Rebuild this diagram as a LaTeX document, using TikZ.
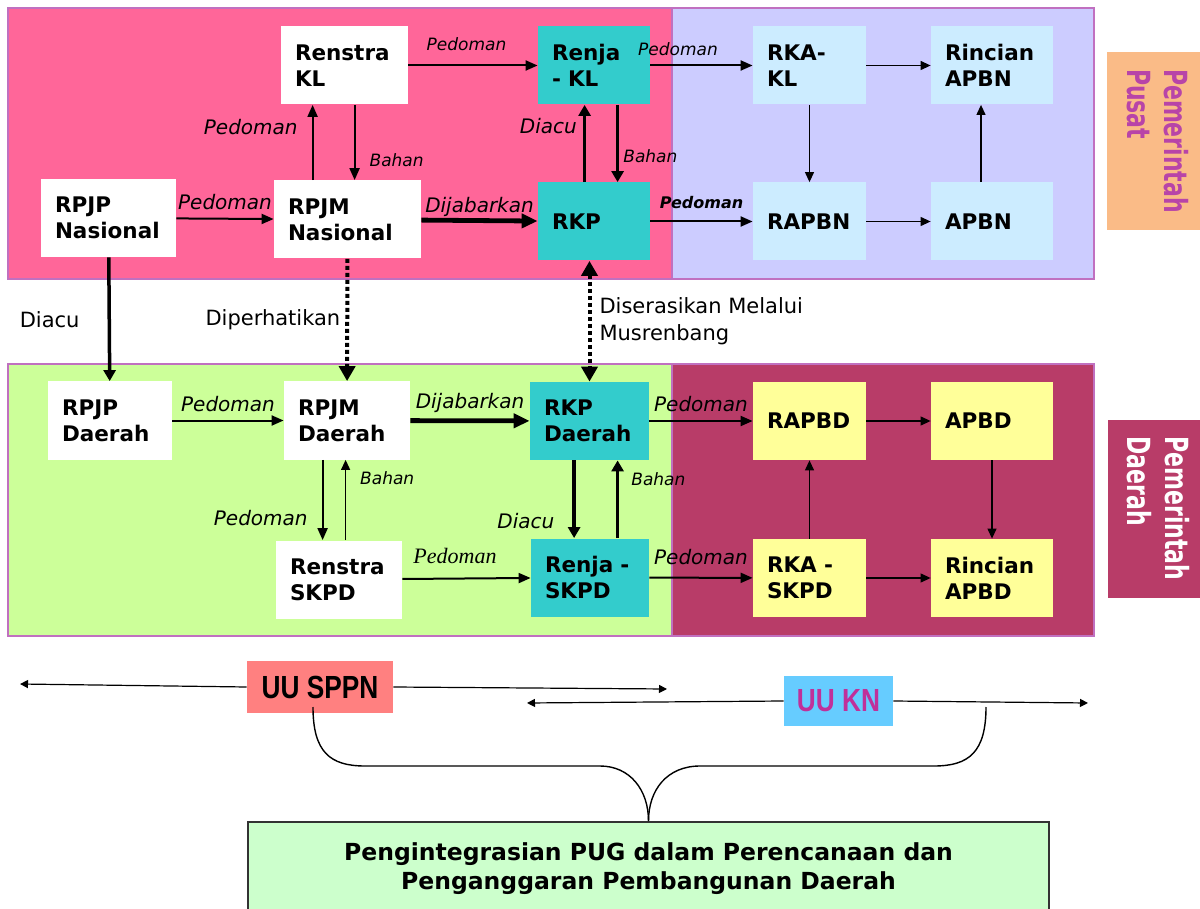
\documentclass[tikz,border=0pt]{standalone}
\usepackage{fontspec}
\setmainfont{DejaVu Sans}
\newfontfamily\narrowfont[FakeStretch=0.82]{Liberation Sans}
\newfontfamily\timesfont{Liberation Serif}
\usetikzlibrary{arrows.meta}

\definecolor{pinkbg}{HTML}{FF6699}
\definecolor{lavbg}{HTML}{CCCCFF}
\definecolor{greenbg}{HTML}{CCFF99}
\definecolor{maroonbg}{HTML}{B83C68}
\definecolor{rim}{HTML}{C070C0}
\definecolor{tealfill}{HTML}{33CCCC}
\definecolor{bluefill}{HTML}{CCECFF}
\definecolor{yellowfill}{HTML}{FFFF99}
\definecolor{pusatbg}{HTML}{FABB87}
\definecolor{pusattext}{HTML}{B844A8}
\definecolor{sppnfill}{HTML}{FF8080}
\definecolor{knfill}{HTML}{66CCFF}
\definecolor{kntext}{HTML}{C0309A}
\definecolor{pugfill}{HTML}{CCFFCC}
\definecolor{pugrim}{HTML}{333333}

\newcommand{\sidetext}[2]{\scalebox{1}[1.45]{\begin{tabular}{@{}l@{}}#1\\#2\end{tabular}}}

\begin{document}
\begin{tikzpicture}[
    x=0.5pt, y=-0.5pt,
    every node/.style = {inner sep=0pt},
    box/.style        = {minimum height=39pt, text width=#1, inner xsep=7pt, align=left,
                         font=\bfseries\fontsize{10.75}{13}\selectfont},
    whitebox/.style   = {box=#1, fill=white},
    tealbox/.style    = {box=#1, fill=tealfill},
    bluebox/.style    = {box=#1, fill=bluefill},
    yellowbox/.style  = {box=#1, fill=yellowfill},
    sidebox/.style    = {rotate=-90, minimum width=89pt, minimum height=46.5pt,
                         font=\bfseries\fontsize{11}{13}\selectfont},
    region/.style     = {draw=rim, line width=0.6pt},
    thin/.style       = {-{Triangle[length=5pt, width=4.5pt]}, line width=0.6pt},
    link/.style       = {-{Triangle[length=6pt, width=5pt]}, line width=1pt},
    heavy/.style      = {-{Triangle[length=5.5pt, width=6pt]}, line width=1.75pt},
    fat/.style        = {-{Triangle[length=8pt, width=7pt]}, line width=2.4pt},
    dotline/.style    = {line width=2pt, dash pattern=on 2pt off 1.5pt},
    law/.style        = {-{Triangle[length=4pt, width=4pt]}, line width=0.6pt},
    lblbig/.style     = {font=\itshape\fontsize{10}{12}\selectfont},
    lblsmall/.style   = {font=\itshape\fontsize{8.5}{10}\selectfont},
    lblbold/.style    = {font=\bfseries\itshape\fontsize{8}{10}\selectfont},
    lblserif/.style   = {font=\timesfont\itshape\fontsize{11}{13}\selectfont},
    lblplain/.style   = {font=\fontsize{10.5}{13.5}\selectfont, align=left}
]
\useasboundingbox (0,0) rectangle (1200,909);

% regions
\filldraw[region, fill=pinkbg]   (8,8)     rectangle (672,279);
\filldraw[region, fill=lavbg]    (672,8)   rectangle (1094,279);
\filldraw[region, fill=greenbg]  (8,364)   rectangle (672,636);
\filldraw[region, fill=maroonbg] (672,364) rectangle (1094,636);

% side labels
\node[sidebox, fill=pusatbg, text=pusattext] (pusat) at (1153.5,141) {\sidetext{Pemerintah}{Pusat}};
\node[sidebox, fill=maroonbg, text=white] (daerah) at (1154,508.5) {\sidetext{Pemerintah}{Daerah}};

% pusat
\node[whitebox=49.5pt] (rsKL)   at (344.5,65.5) {Renstra\\KL};
\node[tealbox=42pt]    (rjKL)   at (594,65.5)   {Renja\\- KL};
\node[bluebox=42.5pt]  (rkaKL)  at (809.5,65.5) {RKA-\\KL};
\node[bluebox=47pt]    (rcAPBN) at (992,65.5)   {Rincian\\APBN};
\node[whitebox=53.5pt] (rpjpN)  at (108.5,218)  {RPJP\\Nasional};
\node[whitebox=59.5pt] (rpjmN)  at (347.5,219.5) {RPJM\\Nasional};
\node[tealbox=42pt]    (rkp)    at (594,221.5)  {RKP};
\node[bluebox=42.5pt]  (rapbn)  at (809.5,221.5) {RAPBN};
\node[bluebox=47pt]    (apbn)   at (992,221.5)  {APBN};

% daerah
\node[whitebox=48pt]    (rpjpD)   at (110,420.5)   {RPJP\\Daerah};
\node[whitebox=49pt]    (rpjmD)   at (347,420.5)   {RPJM\\Daerah};
\node[tealbox=45.5pt]   (rkpD)    at (589.5,421)   {RKP\\Daerah};
\node[yellowbox=42.5pt] (rapbd)   at (809.5,421)   {RAPBD};
\node[yellowbox=47pt]   (apbd)    at (992,421)     {APBD};
\node[whitebox=49pt]    (rsSKPD)  at (339,579.5)   {Renstra\\SKPD};
\node[tealbox=45pt]     (rjSKPD)  at (590,577.5)   {Renja -\\SKPD};
\node[yellowbox=42.5pt] (rkaSKPD) at (809.5,578)   {RKA -\\SKPD};
\node[yellowbox=47pt]   (rcAPBD)  at (992,578)     {Rincian\\APBD};

% connections: pusat
\draw[link] (rsKL) -- node[lblsmall, pos=0.45, above=7pt] {Pedoman} (rjKL);
\draw[link] (rjKL) -- node[lblsmall, pos=0.27, above=4.5pt] {Pedoman} (rkaKL);
\draw[thin] (rkaKL) -- (rcAPBN);
\draw[link] (rpjpN) -- node[lblbig, above=4pt] {Pedoman} (rpjmN);
\draw[fat]  (rpjmN) -- node[lblbig, above=1pt] {Dijabarkan} (rkp);
\draw[link] (rkp) -- node[lblbold, above=6pt] {Pedoman} (rapbn);
\draw[link] ([xshift=16pt]rsKL.south west |- rpjmN.north) -- node[lblbig, pos=0.7, left=7pt] {Pedoman} ([xshift=16pt]rsKL.south west);
\draw[link] ([xshift=37pt]rsKL.south west) -- node[lblsmall, pos=0.74, right=7pt] {Bahan} ([xshift=37pt]rsKL.south west |- rpjmN.north);
\draw[heavy] ([xshift=23.5pt]rkp.north west) -- node[lblbig, pos=0.73, left=3pt] {Diacu} ([xshift=23.5pt]rkp.north west |- rjKL.south);
\draw[heavy] ([xshift=40pt]rjKL.south west) -- node[lblsmall, pos=0.67, right=2pt] {Bahan} ([xshift=40pt]rjKL.south west |- rkp.north);
\draw[thin] (rkaKL) -- (rapbn);
\draw[thin] (rapbn) -- (apbn);
\draw[thin] ([xshift=-5.5pt]apbn.north) -- ([xshift=-5.5pt]rcAPBN.south);

% connections: pusat -> daerah
\draw[heavy] (rpjpN) -- node[lblplain, midway, left=14pt] {Diacu} (rpjpD);
\draw[dotline, -{Triangle[length=7.5pt, width=8pt]}] (rpjmN) -- node[lblplain, midway, left=2.5pt] {Diperhatikan} (rpjmD);
\draw[dotline, {Triangle[length=7.5pt, width=8pt]}-{Triangle[length=7.5pt, width=8pt]}] (rkpD |- rkp.south) -- node[lblplain, midway, right=4pt] {Diserasikan Melalui\\Musrenbang} (rkpD);

% connections: daerah
\draw[link] (rpjpD) -- node[lblbig, above=4pt] {Pedoman} (rpjmD);
\draw[fat]  (rpjmD) -- node[lblbig, above=3pt] {Dijabarkan} (rkpD);
\draw[link] (rkpD) -- node[lblbig, above=4pt] {Pedoman} (rapbd);
\draw[thin] (rapbd) -- (apbd);
\draw[link] ([xshift=19.5pt]rpjmD.south west) -- node[lblbig, pos=0.72, left=7pt] {Pedoman} ([xshift=19.5pt]rpjmD.south west |- rsSKPD.north);
\draw[thin] ([xshift=35pt]rsSKPD.north west) -- node[lblsmall, pos=0.77, right=7pt] {Bahan} ([xshift=35pt]rsSKPD.north west |- rpjmD.south);
\draw[link] (rsSKPD) -- node[lblserif, pos=0.41, above=7pt] {Pedoman} (rjSKPD);
\draw[heavy] ([xshift=22.25pt]rkpD.south west) -- node[lblbig, pos=0.78, left=9pt] {Diacu} ([xshift=22.25pt]rkpD.south west |- rjSKPD.north);
\draw[heavy] ([xshift=43.5pt]rjSKPD.north west) -- node[lblsmall, pos=0.76, right=6pt] {Bahan} ([xshift=43.5pt]rjSKPD.north west |- rkpD.south);
\draw[link] (rjSKPD) -- node[lblbig, above=6pt] {Pedoman} (rkaSKPD);
\draw[thin] (rkaSKPD) -- (rapbd);
\draw[thin] (apbd) -- (rcAPBD);
\draw[thin] (rkaSKPD) -- (rcAPBD);

% undang-undang
\node[fill=sppnfill, minimum width=73pt, minimum height=26pt,
      font=\narrowfont\bfseries\fontsize{16}{18}\selectfont] (sppn) at (320,687) {UU SPPN};
\node[fill=knfill, text=kntext, minimum width=54.5pt, minimum height=25pt,
      font=\narrowfont\bfseries\fontsize{16}{18}\selectfont] (kn) at (838.5,701) {UU KN};
\coordinate (sppnL) at (20,684);
\coordinate (sppnR) at (667,689);
\coordinate (knL) at (527,703);
\coordinate (knR) at (1088,703);
\draw[law] (sppn.west) -- (sppnL);
\draw[law] (sppn.east) -- (sppnR);
\draw[law] (kn.west) -- (knL);
\draw[law] (kn.east) -- (knR);

% pengintegrasian
\node[fill=pugfill, draw=pugrim, line width=1pt, minimum width=400.5pt, minimum height=46.5pt,
      align=center, font=\bfseries\fontsize{11.75}{14.5}\selectfont] (pug) at (648.5,868.5)
      {Pengintegrasian PUG dalam Perencanaan dan\\Penganggaran Pembangunan Daerah};

% brace
\coordinate (braceL) at (313,707);
\coordinate (braceR) at (986,707);
\draw[line width=0.7pt] (braceL) .. controls (313,752) and (330,766) .. (365,766) -- (600,766)
      .. controls (630,766) and (648.5,790) .. (pug.north);
\draw[line width=0.7pt] (braceR) .. controls (986,752) and (969,766) .. (934,766) -- (700,766)
      .. controls (667,766) and (648.5,790) .. (pug.north);

\end{tikzpicture}
\end{document}
